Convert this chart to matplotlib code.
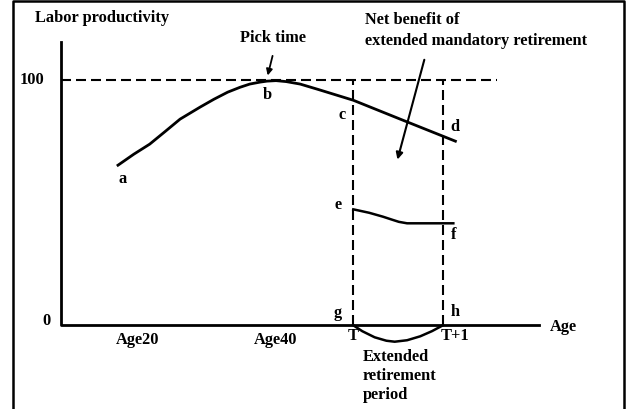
import matplotlib
matplotlib.use("Agg")
import matplotlib.pyplot as plt

# schematic: x is age, y is labor productivity (peak = 100)
curve_age = [17.1, 19.4, 21.7, 24, 26.1, 29, 31, 33, 34.8, 36.2, 37.7, 38.7,
             40, 41.5, 43.5, 46, 51.2, 58, 66]
curve_prod = [65.3, 69.8, 73.9, 79.2, 84.1, 89.0, 92.2, 95.1, 97.1, 98.4, 99.2, 99.6,
              99.8, 99.4, 98.4, 96.3, 91.8, 84.1, 75.1]

ef_age = [51.2, 53.5, 55.5, 56.8, 57.8, 59, 65.7]
ef_prod = [47.3, 45.9, 44.3, 43.1, 42.2, 41.6, 41.6]

dip_age = [51.2, 52.5, 54.3, 56, 57.2, 59, 60.9, 62.6, 64.2]
dip_prod = [0, -2.4, -4.9, -6.3, -6.7, -6.1, -4.5, -2.4, 0]

T, T1 = 51.2, 64.2
peak = 100
x_start, x_end = 8.84, 78.1
y_top = 115.5

tick_ages = [20, 40]
tick_labels = ["Age20", "Age40"]

point_labels = ["a", "b", "c", "d", "e", "f", "g", "h"]
point_x = [17.8, 38.7, 49.6, 65.9, 49.0, 65.7, 49.0, 65.9]
point_y = [60, 94.3, 86.1, 81.2, 49.4, 37.1, 5.3, 5.7]

font = dict(family="Liberation Serif", fontweight="bold", fontsize=11.8)

fig = plt.figure(figsize=(6.31, 4.10), dpi=100)
ax = fig.add_axes([0, 0, 1, 1])
ax.set_xlim(0, 91.45)
ax.set_ylim(-34.15, 133.1)
ax.axis("off")

# outer frame
ax.plot([0.021, 0.021, 0.989, 0.989], [-0.1, 0.996, 0.996, -0.1],
        color="black", lw=1.8, transform=ax.transAxes, clip_on=False)

# axes
ax.plot([x_start, x_start, x_end], [y_top, 0, 0], color="black", lw=2)

# guide lines
ax.plot([x_start, 72.0], [peak, peak], color="black", lw=1.5, dashes=(4.8, 2.4))
for xv in [T, T1]:
    ax.plot([xv, xv], [0, peak], color="black", lw=1.5, dashes=(4.8, 2.4))

# productivity curves
ax.plot(curve_age, curve_prod, color="black", lw=2, solid_joinstyle="round")
ax.plot(ef_age, ef_prod, color="black", lw=1.8, solid_joinstyle="round")
ax.plot(dip_age, dip_prod, color="black", lw=1.8, solid_joinstyle="round")

# arrows
ax.annotate("", xy=(38.7, 100.8), xytext=(39.6, 111),
            arrowprops=dict(arrowstyle="-|>", color="black", lw=1.3, mutation_scale=9))
ax.annotate("", xy=(57.5, 66.5), xytext=(61.6, 109.4),
            arrowprops=dict(arrowstyle="-|>", color="black", lw=1.5, mutation_scale=10))

# texts
ax.text(5.1, 125.7, "Labor productivity", ha="left", va="center", **font)
ax.text(4.6, 100.4, "100", ha="center", va="center", **font)
ax.text(6.7, 2.0, "0", ha="center", va="center", **font)
for xv, lab in zip(tick_ages, tick_labels):
    ax.text(xv, -5.7, lab, ha="center", va="center", **font)
ax.text(39.6, 117.6, "Pick time", ha="center", va="center", **font)
ax.text(52.9, 125.0, "Net benefit of", ha="left", va="center", **font)
ax.text(52.9, 116.4, "extended mandatory retirement", ha="left", va="center", **font)
for lab, xv, yv in zip(point_labels, point_x, point_y):
    ax.text(xv, yv, lab, ha="center", va="center", **font)
ax.text(T, -3.9, "T", ha="center", va="center", **font)
ax.text(65.9, -3.9, "T+1", ha="center", va="center", **font)
ax.text(81.6, -0.4, "Age", ha="center", va="center", **font)
ax.text(52.6, -20.4, "Extended\nretirement\nperiod", ha="left", va="center",
        linespacing=1.25, **font)

fig.savefig("out.png", dpi=100)
